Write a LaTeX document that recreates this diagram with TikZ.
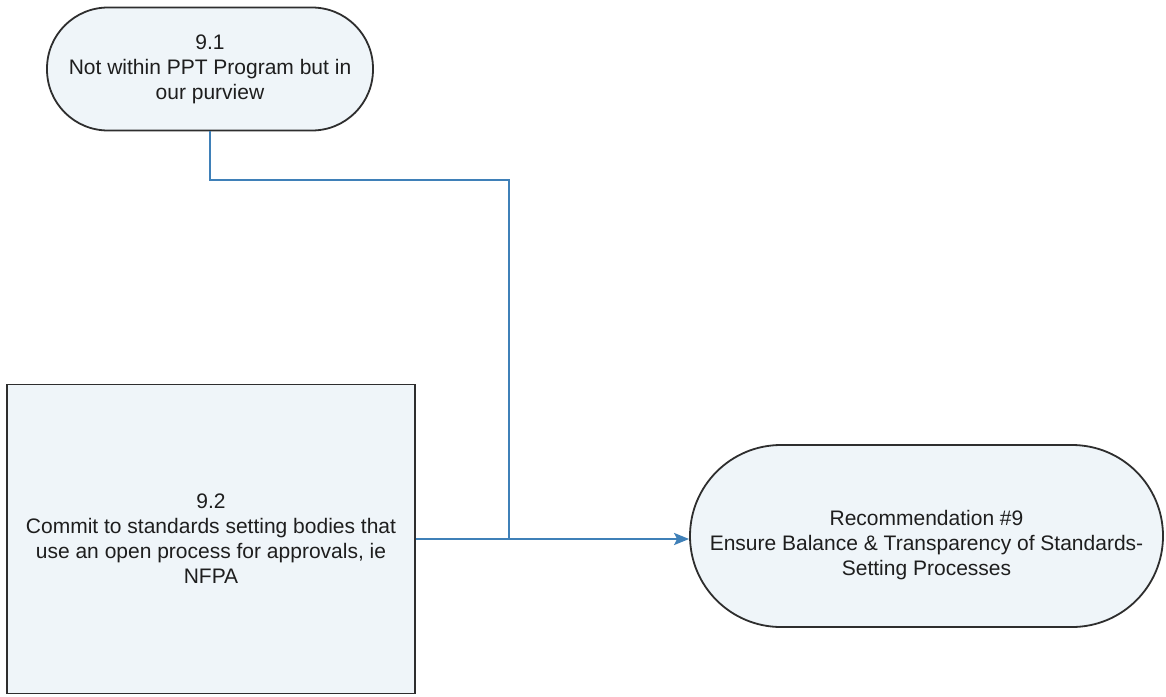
\documentclass[tikz,border=0pt]{standalone}
\usepackage{fontspec}
\setmainfont{Liberation Sans}
\usetikzlibrary{arrows.meta}
\definecolor{boxfill}{HTML}{EFF5F9}
\definecolor{boxline}{HTML}{2E2E2E}
\definecolor{linkblue}{HTML}{3F80B8}
\definecolor{ink}{HTML}{1E1E1E}
\begin{document}
\begin{tikzpicture}[x=1pt,y=-1pt,
  every node/.style={font=\fontsize{21}{25}\selectfont, align=center, text=ink},
  terminal/.style={draw=boxline, fill=boxfill, line width=1.8pt, rounded corners=#1, inner sep=0pt},
  taskbox/.style={draw=boxline, fill=boxfill, line width=1.8pt, inner sep=0pt},
  link/.style={draw=linkblue, line width=1.6pt},
  mainlink/.style={draw=linkblue, line width=2.2pt, -{Stealth[length=15pt,width=12pt,inset=3pt]}}]
  \useasboundingbox[fill=white] (0,0) rectangle (1166,696);

  % source activities
  \node[terminal=61pt, minimum width=326pt, minimum height=123pt] (n91) at (210,69)
    {9.1\\Not within PPT Program but in\\our purview};
  \node[taskbox, minimum width=408pt, minimum height=309pt] (n92) at (211,539)
    {9.2\\Commit to standards setting bodies that\\use an open process for approvals, ie\\NFPA};

  % recommendation outcome: the outline, then its text set a little low
  \node[terminal=91pt, minimum width=473pt, minimum height=182pt] (rec) at (926.5,536) {};
  \node (rectext) at ([yshift=-9pt]rec.center)
    {Recommendation \#9\\Ensure Balance \& Transparency of Standards-\\Setting Processes};

  % connectors
  \coordinate (j) at (509,539);
  \coordinate (t) at (n92.east -| rec.west);
  \draw[link] (n91.south) -- (n91.south |- 0,180) -| (j);
  \draw[link] (n92.east) -- (j);
  \draw[mainlink] (j) -- (t);
\end{tikzpicture}
\end{document}
